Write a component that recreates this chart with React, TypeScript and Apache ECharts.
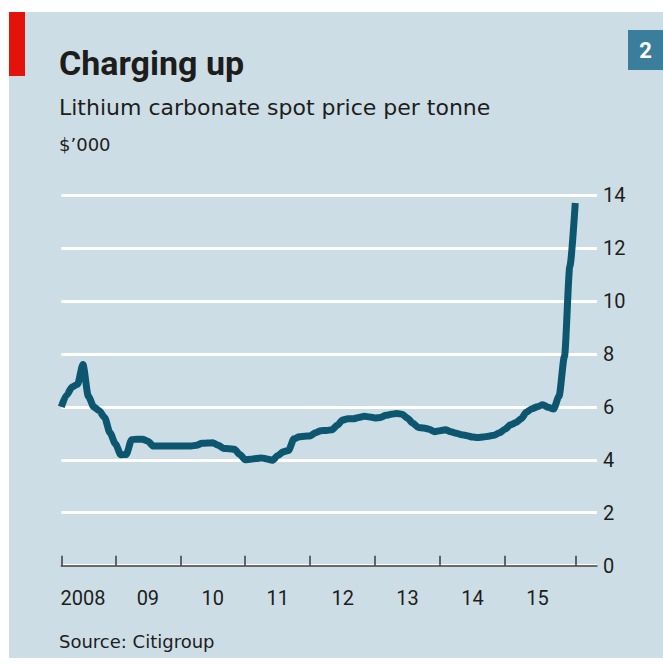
import React, { useEffect, useRef } from "react";
import * as echarts from "echarts";

// Monthly lithium carbonate spot price, $'000 per tonne, Mar 2008 – Feb 2016
const startYear = 2008;
const startMonth = 3; // March
const prices = [
  6.0, 6.45, 6.75, 6.85, 7.6, 6.4, 6.0, 5.85, 5.6, 5.02,
  4.6, 4.19, 4.2, 4.76, 4.78, 4.78, 4.7, 4.52, 4.52, 4.52,
  4.52, 4.52, 4.52, 4.52, 4.52, 4.55, 4.62, 4.63, 4.64, 4.55,
  4.43, 4.42, 4.4, 4.2, 4.0, 4.02, 4.05, 4.07, 4.03, 3.98,
  4.15, 4.3, 4.35, 4.79, 4.87, 4.89, 4.9, 5.02, 5.1, 5.11,
  5.13, 5.3, 5.5, 5.55, 5.55, 5.6, 5.64, 5.62, 5.58, 5.6,
  5.68, 5.72, 5.75, 5.72, 5.57, 5.38, 5.22, 5.2, 5.15, 5.06,
  5.1, 5.13, 5.06, 5.0, 4.95, 4.91, 4.86, 4.84, 4.86, 4.89,
  4.93, 5.02, 5.15, 5.32, 5.4, 5.55, 5.8, 5.93, 6.0, 6.08,
  5.98, 5.92, 6.4, 7.9, 11.3, 13.7,
];
const extraMonths = 4; // empty axis space after the last observation
const yTicks = [0, 2, 4, 6, 8, 10, 12, 14];

const categories: string[] = [];
for (let i = 0; i < prices.length + extraMonths; i++) {
  const m0 = startMonth - 1 + i;
  const y = startYear + Math.floor(m0 / 12);
  const m = (m0 % 12) + 1;
  categories.push(`${y}-${String(m).padStart(2, "0")}`);
}

const FONT = "Roboto, 'Noto Sans', sans-serif";
const WIDE = "'DejaVu Sans', 'Noto Sans', sans-serif";
const TEXT = "#1d1d1b";

export default function App() {
  const ref = useRef<HTMLDivElement>(null);
  useEffect(() => {
    const chart = echarts.init(ref.current!, undefined, { renderer: "svg" });
    const lastIdx = prices.length - 1;
    chart.setOption({
      animation: false,
      backgroundColor: "#ffffff",
      graphic: [
        { type: "rect", shape: { x: 9, y: 12, width: 654, height: 646 }, style: { fill: "#cddde6" }, z: -10 },
        { type: "rect", shape: { x: 9, y: 12, width: 16, height: 64 }, style: { fill: "#e3120b" } },
        { type: "rect", shape: { x: 628, y: 30, width: 35, height: 40 }, style: { fill: "#3b7e9b" } },
        { type: "text", style: { x: 645.5, y: 50, text: "2", font: `bold 22px ${FONT}`, fill: "#ffffff", align: "center", verticalAlign: "middle" } },
        { type: "text", style: { x: 59, y: 63, text: "Charging up", font: `bold 34px ${FONT}`, fill: TEXT, align: "left", verticalAlign: "middle" } },
        { type: "text", style: { x: 59, y: 107, text: "Lithium carbonate spot price per tonne", font: `22px ${WIDE}`, fill: TEXT, align: "left", verticalAlign: "middle" } },
        { type: "text", style: { x: 59, y: 144, text: "$\u2019000", font: `18px ${WIDE}`, fill: TEXT, align: "left", verticalAlign: "middle" } },
        { type: "text", style: { x: 59, y: 641, text: "Source: Citigroup", font: `18px ${WIDE}`, fill: TEXT, align: "left", verticalAlign: "middle" } },
      ],
      grid: { left: 61.3, right: 66.1, top: 195, bottom: 99.3, containLabel: false },
      xAxis: {
        type: "category",
        data: categories,
        boundaryGap: false,
        axisLine: { show: true, lineStyle: { color: "#3a3a3a", width: 1.5 } },
        axisTick: {
          show: true,
          inside: true,
          length: 10,
          lineStyle: { color: "#3a3a3a", width: 1.5 },
          interval: (i: number, v: string) => i === 0 || i === lastIdx || (v.endsWith("-01") && i < lastIdx - 2),
        },
        axisLabel: {
          show: true,
          interval: (i: number, v: string) => v.endsWith("-07"),
          formatter: (v: string) => {
            const y = v.slice(0, 4);
            return y === String(startYear) ? y : y.slice(2);
          },
          margin: 22,
          fontSize: 20,
          fontFamily: FONT,
          color: TEXT,
        },
        splitLine: { show: false },
      },
      yAxis: {
        type: "value",
        position: "right",
        min: 0,
        max: 14,
        interval: 2,
        axisLine: { show: false },
        axisTick: { show: false },
        axisLabel: {
          margin: 6,
          fontSize: 20,
          fontFamily: FONT,
          color: TEXT,
          formatter: (v: number) => (yTicks.includes(v) ? String(v) : ""),
        },
        splitLine: { show: true, lineStyle: { color: "#ffffff", width: 3 } },
      },
      series: [
        {
          type: "line",
          data: prices,
          showSymbol: false,
          symbol: "none",
          smooth: 0.25,
          smoothMonotone: "x",
          lineStyle: { color: "#0d5670", width: 7, join: "round", cap: "butt" },
          z: 5,
        },
      ],
    });
    return () => chart.dispose();
  }, []);
  return <div ref={ref} style={{ position: "absolute", left: 0, top: 0, width: 663, height: 665 }} />;
}
